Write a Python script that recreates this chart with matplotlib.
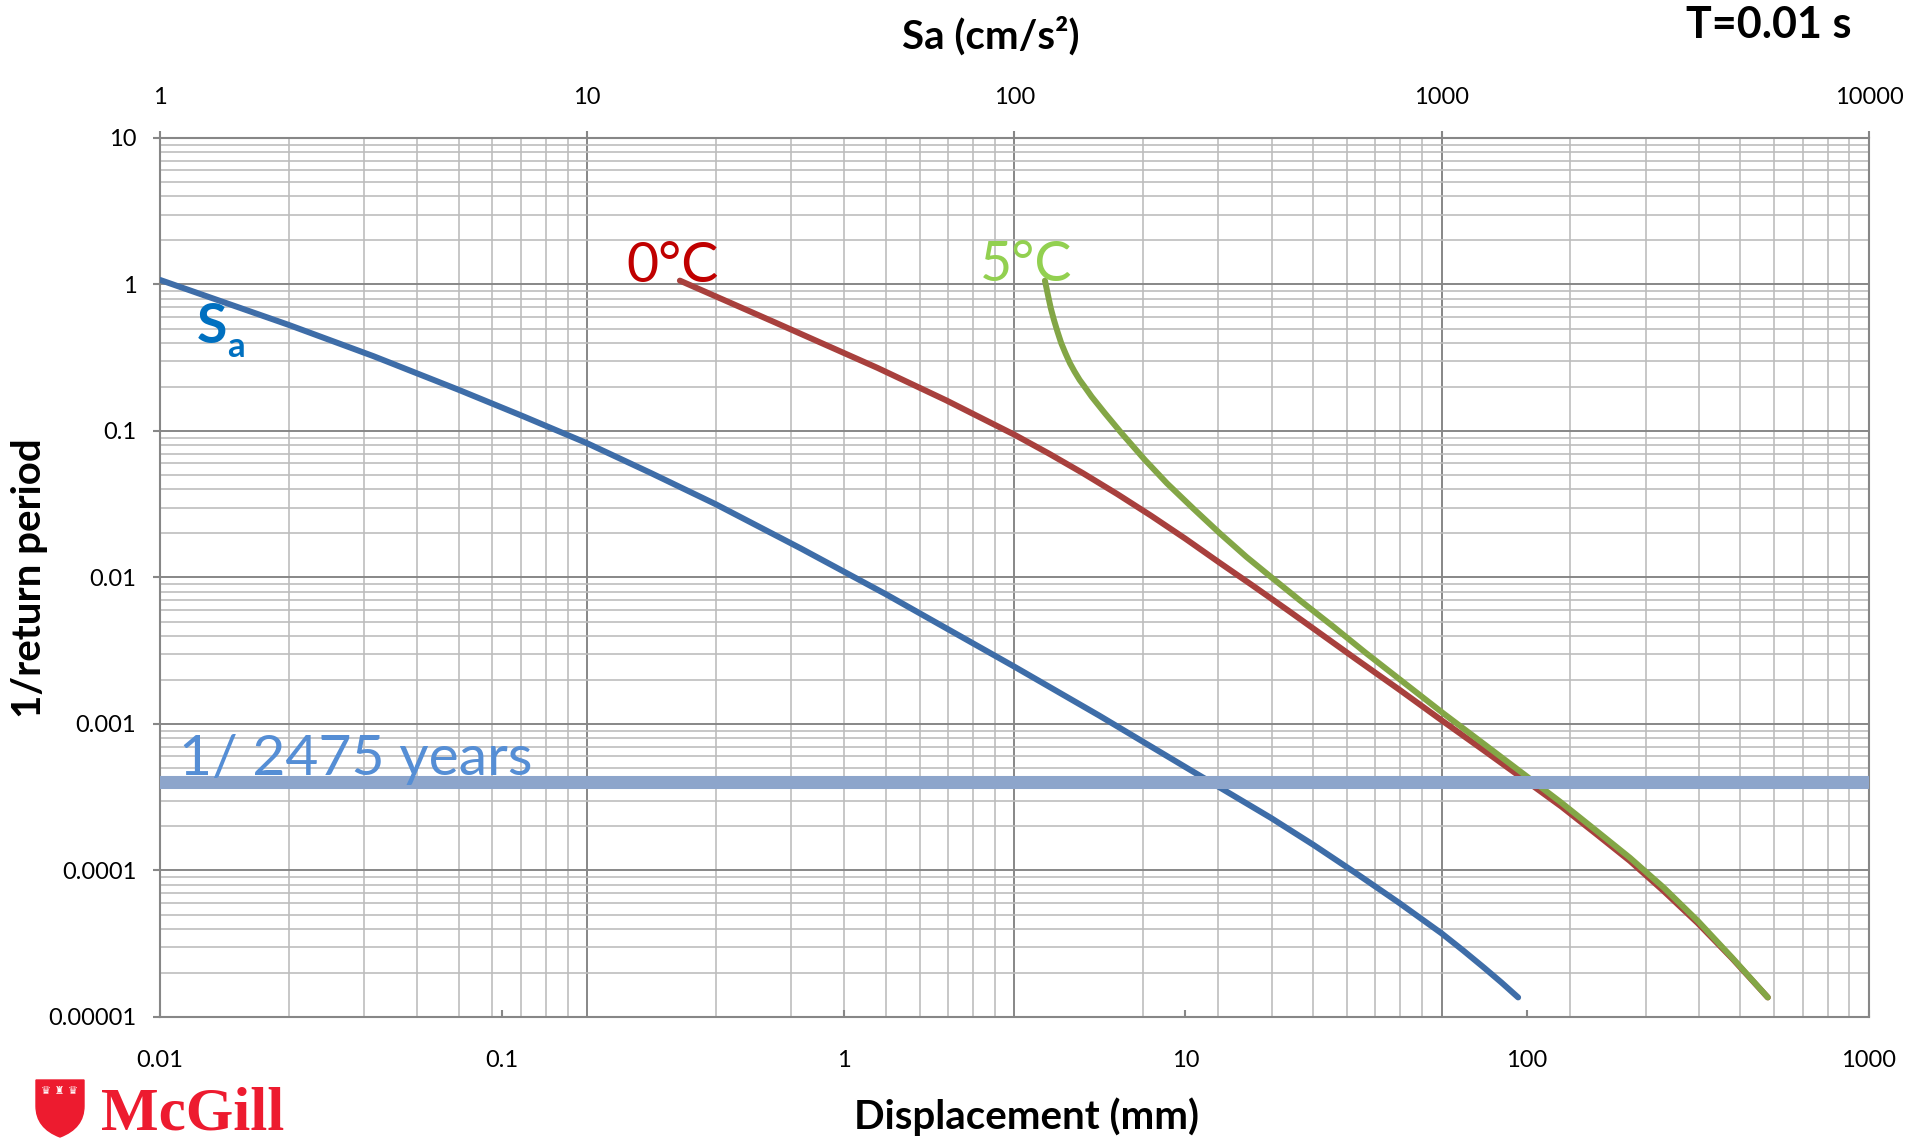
import matplotlib
matplotlib.use('Agg')
import matplotlib.pyplot as plt
from matplotlib.ticker import FixedLocator, FixedFormatter, LogLocator, NullFormatter
from matplotlib.patches import PathPatch
from matplotlib.path import Path

plt.rcParams['font.family'] = ['Lato', 'DejaVu Sans']

# spectral acceleration hazard curve (read against the top axis)
sa_cms2 = [1, 2, 3.16, 5, 7.08, 10, 14.1, 20, 31.6, 50, 100, 158, 251, 398, 501, 631,
           794, 1000, 1122, 1259, 1380, 1510]
sa_rate = [1.074, 0.530, 0.324, 0.191, 0.126, 0.0824, 0.0516, 0.0316, 0.0158, 0.00769,
           0.00246, 0.00114, 0.000509, 0.000229, 0.0001496, 0.0000955, 0.0000603,
           0.0000372, 0.0000285, 0.0000216, 0.0000172, 0.0000136]

# displacement hazard curves (bottom axis)
disp_0c = [0.332, 0.631, 1.259, 1.995, 3.17, 3.98, 5.01, 6.31, 7.94, 10.0, 12.6, 15.85,
           19.95, 25.1, 31.6, 42.2, 56.2, 75.0, 100, 126, 158, 200, 251, 316, 398, 506]
rate_0c = [1.062, 0.550, 0.269, 0.162, 0.0940, 0.0703, 0.0516, 0.0372, 0.0264, 0.0184,
           0.0126, 0.00871, 0.00597, 0.00407, 0.00277, 0.00172, 0.00106, 0.000656,
           0.000404, 0.000273, 0.000180, 0.000116, 0.0000723, 0.0000436, 0.0000251,
           0.0000136]

disp_5c = [3.883, 3.928, 3.972, 4.040, 4.126, 4.226, 4.335, 4.459, 4.596, 4.742, 4.906,
           5.108, 5.319, 5.563, 5.819, 6.155, 6.510, 7.042, 7.618, 8.204, 8.837, 10.54,
           12.62, 15.1, 18.1, 21.6, 27.1, 33.7, 42.0, 56.9, 75.9, 100, 126, 158, 200,
           251, 316, 398, 506]
rate_5c = [1.062, 0.936, 0.826, 0.688, 0.573, 0.476, 0.397, 0.339, 0.290, 0.254, 0.223,
           0.196, 0.1715, 0.1505, 0.132, 0.1128, 0.0964, 0.0782, 0.0634, 0.0528, 0.0439,
           0.0296, 0.0200, 0.0138, 0.00977, 0.0070, 0.00462, 0.00306, 0.00205, 0.00118,
           0.000711, 0.000437, 0.000290, 0.000190, 0.000122, 0.0000764, 0.0000452,
           0.0000254, 0.0000136]

return_period = 2475

disp_ticks = [0.01, 0.1, 1, 10, 100, 1000]
disp_labels = ['0.01', '0.1', '1', '10', '100', '1000']
sa_ticks = [1, 10, 100, 1000, 10000]
sa_labels = ['1', '10', '100', '1000', '10000']
rate_ticks = [1e-5, 1e-4, 1e-3, 1e-2, 1e-1, 1, 10]
rate_labels = ['0.00001', '0.0001', '0.001', '0.01', '0.1', '1', '10']

blue = '#3e6da8'
red = '#a8403d'
green = '#83a646'
grid_major = '#878787'
grid_minor = '#bdbdbd'

fig = plt.figure(figsize=(19.09, 11.40), dpi=100)
ax = fig.add_axes([0.0838, 0.1079, 0.8952, 0.7711])
ax.set_xscale('log')
ax.set_yscale('log')
top = ax.twiny()
top.set_xscale('log')

# main axes (curves + horizontal grid) sits above the twin (vertical grid)
ax.set_zorder(2)
top.set_zorder(1)
ax.patch.set_visible(False)

ax.plot(sa_cms2, sa_rate, color=blue, lw=4.3, solid_capstyle='round',
        solid_joinstyle='round', transform=top.transData, zorder=3)
ax.plot(disp_0c, rate_0c, color=red, lw=4.3, solid_capstyle='round',
        solid_joinstyle='round', zorder=3)
ax.plot(disp_5c, rate_5c, color=green, lw=4.3, solid_capstyle='round',
        solid_joinstyle='round', zorder=3)
ax.axhline(1 / return_period, color='#8da5cb', lw=9.4, zorder=4)

ax.set_xlim(0.01, 1000)
ax.set_ylim(1e-5, 10)
top.set_xlim(1, 10000)

# grids
ax.yaxis.set_minor_locator(LogLocator(base=10, subs=range(2, 10), numticks=30))
ax.yaxis.set_minor_formatter(NullFormatter())
ax.grid(True, axis='y', which='major', color=grid_major, lw=1.4)
ax.grid(True, axis='y', which='minor', color=grid_minor, lw=1.2)
top.xaxis.set_minor_locator(LogLocator(base=10, subs=range(2, 10), numticks=30))
top.xaxis.set_minor_formatter(NullFormatter())
top.grid(True, axis='x', which='major', color=grid_major, lw=1.4)
top.grid(True, axis='x', which='minor', color=grid_minor, lw=1.2)

# ticks and labels
ax.xaxis.set_major_locator(FixedLocator(disp_ticks))
ax.xaxis.set_major_formatter(FixedFormatter(disp_labels))
ax.xaxis.set_minor_formatter(NullFormatter())
ax.yaxis.set_major_locator(FixedLocator(rate_ticks))
ax.yaxis.set_major_formatter(FixedFormatter(rate_labels))
top.xaxis.set_major_locator(FixedLocator(sa_ticks))
top.xaxis.set_major_formatter(FixedFormatter(sa_labels))

ax.tick_params(axis='x', which='major', direction='in', length=5, width=1.5,
               color=grid_major, labelsize=17, pad=24)
ax.tick_params(axis='y', which='major', direction='out', length=5, width=1.5,
               color=grid_major, labelsize=17, pad=12)
ax.tick_params(which='minor', length=0)
top.tick_params(axis='x', which='major', direction='out', length=5, width=1.5,
                color=grid_major, labelsize=17, pad=16.5)
top.tick_params(which='minor', length=0)

for s in ax.spines.values():
    s.set_color(grid_major)
    s.set_linewidth(1.5)
for s in top.spines.values():
    s.set_visible(False)

# curve labels
ax.text(0.273, 0.836, '0°C', transform=ax.transAxes, color='#c00000', fontsize=40,
        va='baseline', zorder=5)
ax.text(0.480, 0.837, '5°C', transform=ax.transAxes, color='#92d050', fontsize=40,
        va='baseline', zorder=5)
ax.text(0.0217, 0.7668, 'S', transform=ax.transAxes, color='#0070c0', fontsize=40,
        fontweight='bold', va='baseline', zorder=5)
ax.text(0.0392, 0.7509, 'a', transform=ax.transAxes, color='#0070c0', fontsize=25,
        fontweight='bold', va='baseline', zorder=5)
ax.text(0.0111, 0.2753, f'1/ {return_period} years', transform=ax.transAxes,
        color='#558ed5', fontsize=41, va='baseline', zorder=5)

# axis titles
fig.text(991 / 1909, 1 - 36 / 1140, 'Sa (cm/s²)', ha='center', va='center',
         fontsize=29, fontweight='bold')
fig.text(1027 / 1909, 1 - 1117 / 1140, 'Displacement (mm)', ha='center', va='center',
         fontsize=29, fontweight='bold')
fig.text(30 / 1909, 1 - 578 / 1140, '1/return period', ha='center', va='center',
         rotation=90, fontsize=29, fontweight='bold')
fig.text(1851 / 1909, 1 - 25 / 1140, 'T=0.01 s', ha='right', va='center',
         fontsize=31, fontweight='bold')

# university wordmark with a simple shield
def px(x, y):
    return (x / 1909, 1 - y / 1140)

shield = Path([px(36, 1080), px(84, 1080), px(84, 1106), px(84, 1128), px(60, 1137),
               px(36, 1128), px(36, 1106), px(36, 1080)],
              [Path.MOVETO, Path.LINETO, Path.LINETO, Path.CURVE3, Path.CURVE3,
               Path.CURVE3, Path.CURVE3, Path.CLOSEPOLY])
fig.patches.append(PathPatch(shield, transform=fig.transFigure, facecolor='#ed1b2f',
                             edgecolor='#ed1b2f', lw=1))
fig.text(px(41, 1091)[0], px(41, 1091)[1], '♛ ♜ ♛', color='white', fontsize=8,
         family=['DejaVu Sans'], va='center')
fig.text(101 / 1909, 1 - 1129 / 1140, 'McGill', family=['Liberation Serif'],
         fontweight='bold', color='#ed1b2f', fontsize=44, va='baseline')

fig.savefig('out.png', dpi=100, facecolor='white')
